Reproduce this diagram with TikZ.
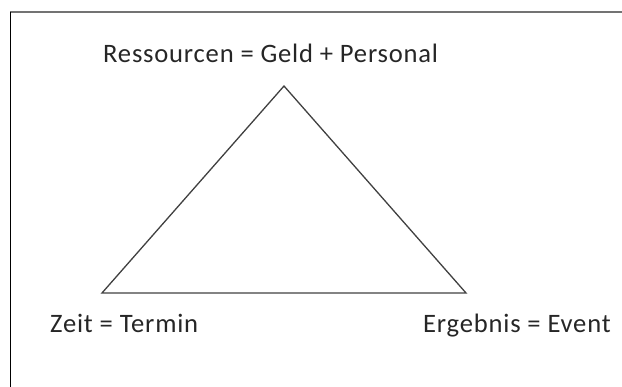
\documentclass[tikz,border=0pt]{standalone}
\usepackage{fontspec}
\setmainfont{Carlito}[LetterSpace=3]
\begin{document}
\begin{tikzpicture}[x=1pt,y=-1pt,
  lbl/.style={inner sep=0pt,anchor=base west,font=\fontsize{26.6}{30}\selectfont,text=black!85},
  edge/.style={draw=black!75,line width=1.3pt}]
\useasboundingbox (0,0) rectangle (622,387);
\draw[draw=black!55,line width=1.5pt] (10,12) -- (622,12);
\draw[draw=black,line width=1.2pt] (10.5,12) -- (10.5,387);
\coordinate (top) at (284,86);
\coordinate (bl) at (102,293);
\coordinate (br) at (466,293);
\draw[edge,line join=miter] (top) -- (bl) -- (br) -- cycle;
\node[lbl] (res) at (103,63) {Ressourcen = Geld + Personal};
\node[lbl] (zeit) at (50,333) {Zeit = Termin};
\node[lbl] (erg) at (423,333) {Ergebnis = Event};
\end{tikzpicture}
\end{document}
